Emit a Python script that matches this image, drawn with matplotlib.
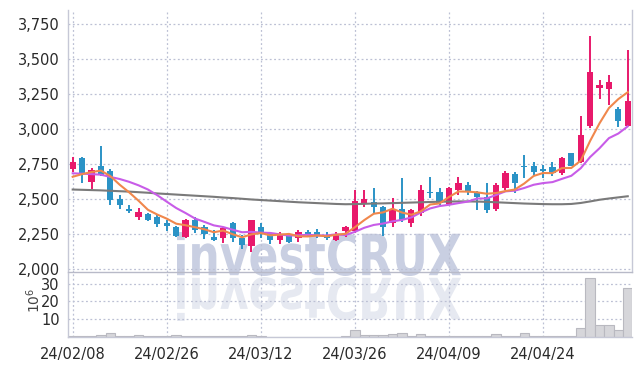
import numpy as np
import matplotlib
matplotlib.use("Agg")
import matplotlib.pyplot as plt
from matplotlib.ticker import FuncFormatter
from matplotlib.textpath import TextPath
from matplotlib.patches import PathPatch
from matplotlib.transforms import Affine2D, IdentityTransform
from matplotlib.font_manager import FontProperties

# # # # # data (prices in KRW, volume in 10^6 shares) # # # # #
tick_pos = [0, 10, 20, 30, 40, 50]
tick_labels = ["24/02/08", "24/02/26", "24/03/12", "24/03/26", "24/04/09", "24/04/24"]

opens = [2714, 2795, 2624, 2738, 2704, 2502, 2433, 2376, 2393, 2371,
         2331, 2300, 2233, 2352, 2304, 2229, 2226, 2333, 2221, 2166,
         2304, 2257, 2209, 2245, 2221, 2264, 2269, 2245, 2209, 2271,
         2276, 2466, 2481, 2443, 2329, 2429, 2329, 2400, 2554, 2554,
         2464, 2566, 2602, 2547, 2514, 2429, 2579, 2681, 2740, 2738,
         2716, 2733, 2686, 2831, 2764, 3026, 3297, 3286, 3145, 3026]
highs = [2800, 2800, 2723, 2881, 2714, 2530, 2457, 2438, 2400, 2386,
         2352, 2310, 2359, 2376, 2316, 2281, 2304, 2340, 2245, 2355,
         2329, 2269, 2264, 2250, 2281, 2281, 2288, 2264, 2264, 2310,
         2566, 2566, 2579, 2450, 2507, 2650, 2430, 2602, 2661, 2579,
         2590, 2661, 2626, 2560, 2614, 2619, 2700, 2697, 2816, 2769,
         2745, 2769, 2800, 2831, 3095, 3669, 3352, 3388, 3162, 3566]
lows = [2697, 2614, 2576, 2670, 2457, 2429, 2404, 2352, 2343, 2304,
        2276, 2228, 2221, 2262, 2216, 2205, 2186, 2197, 2143, 2126,
        2226, 2179, 2179, 2186, 2193, 2233, 2226, 2209, 2205, 2233,
        2257, 2447, 2400, 2238, 2300, 2340, 2300, 2381, 2507, 2460,
        2457, 2531, 2531, 2424, 2400, 2419, 2566, 2543, 2650, 2674,
        2654, 2669, 2674, 2735, 2757, 3012, 3216, 3174, 3019, 3026]
closes = [2766, 2686, 2709, 2674, 2495, 2457, 2414, 2409, 2352, 2324,
          2311, 2235, 2352, 2281, 2250, 2209, 2293, 2221, 2174, 2352,
          2257, 2209, 2250, 2197, 2269, 2250, 2245, 2221, 2252, 2300,
          2488, 2500, 2447, 2300, 2429, 2352, 2424, 2566, 2543, 2471,
          2579, 2619, 2561, 2519, 2424, 2602, 2690, 2614, 2733, 2697,
          2704, 2686, 2793, 2740, 2959, 3407, 3316, 3336, 3062, 3202]

ma5 = [2661, 2680, 2695, 2705, 2666, 2604, 2550, 2490, 2425, 2391,
       2362, 2326, 2315, 2301, 2286, 2265, 2277, 2251, 2229, 2250,
       2259, 2243, 2248, 2253, 2236, 2235, 2242, 2236, 2247, 2254,
       2301, 2352, 2397, 2407, 2433, 2406, 2390, 2414, 2463, 2471,
       2517, 2556, 2555, 2550, 2540, 2545, 2559, 2570, 2613, 2667,
       2688, 2687, 2723, 2724, 2776, 2917, 3043, 3152, 3216, 3265]
ma10 = [2686, 2683, 2680, 2676, 2660, 2645, 2625, 2600, 2570, 2529,
        2483, 2438, 2402, 2363, 2339, 2314, 2302, 2283, 2265, 2268,
        2262, 2260, 2250, 2241, 2243, 2247, 2242, 2242, 2250, 2245,
        2268, 2297, 2317, 2327, 2343, 2353, 2371, 2406, 2435, 2452,
        2461, 2473, 2484, 2506, 2506, 2531, 2557, 2562, 2581, 2604,
        2616, 2623, 2646, 2668, 2722, 2802, 2865, 2937, 2970, 3021]
ma_long = [2570, 2568, 2566, 2564, 2561, 2558, 2555, 2551, 2547, 2542,
           2538, 2534, 2530, 2526, 2522, 2518, 2513, 2509, 2504, 2499,
           2495, 2491, 2487, 2483, 2479, 2476, 2473, 2470, 2467, 2465,
           2466, 2468, 2470, 2471, 2473, 2475, 2477, 2479, 2481, 2483,
           2484, 2485, 2485, 2484, 2482, 2479, 2476, 2473, 2470, 2468,
           2466, 2465, 2465, 2467, 2474, 2485, 2497, 2506, 2514, 2522]

volume = [0.3, 0.3, 0.4, 1.4, 2.0, 0.5, 0.5, 0.9, 0.5, 0.5,
          0.5, 1.0, 0.5, 0.4, 0.4, 0.4, 0.4, 0.3, 0.6, 1.0,
          0.6, 0.2, 0.2, 0.2, 0.2, 0.2, 0.2, 0.2, 0.2, 0.3,
          3.8, 1.0, 1.0, 1.0, 1.5, 2.2, 0.5, 1.8, 0.8, 0.3,
          0.8, 0.8, 0.3, 0.3, 0.3, 1.8, 0.8, 0.8, 2.3, 0.4,
          0.4, 0.4, 0.4, 0.5, 4.8, 33.0, 6.8, 6.8, 4.0, 27.5]

# # # # # style # # # # #
UP = "#e8196b"
DOWN = "#2b93c6"
GRID = "#bcc0d4"
SPINE = "#c6c8d6"
TXT = "#2a2a2a"
plt.rcParams["font.family"] = ["Liberation Sans Narrow", "DejaVu Sans"]
plt.rcParams["font.size"] = 10.5


def main():
    fig = plt.figure(figsize=(6.42, 3.66), dpi=100)
    fig.patch.set_facecolor("white")
    ax = fig.add_axes([0.1059, 0.2568, 0.8785, 0.7159])
    axv = fig.add_axes([0.1059, 0.0792, 0.8785, 0.1749])
    for a in (ax, axv):
        a.set_facecolor("none")
        a.set_xlim(-0.5, 59.45)
        a.set_xticks(tick_pos)
        a.grid(True, color=GRID, linestyle=(0, (1.5, 2)), linewidth=0.9)
        a.set_axisbelow(True)
        a.tick_params(length=0, colors=TXT, pad=6)
        for s in a.spines.values():
            s.set_color(SPINE)
            s.set_linewidth(1.0)
        a.spines["top"].set_visible(False)

    x = np.arange(len(closes))
    o = np.array(opens)
    c = np.array(closes)
    up = c >= o
    colors = np.where(up, UP, DOWN)

    # wicks and bodies
    ax.vlines(x, lows, highs, colors=colors, linewidth=1.4, zorder=2)
    bottoms = np.minimum(o, c)
    heights = np.maximum(np.abs(c - o), 8)
    ax.bar(x, heights, bottom=bottoms, width=0.66, color=colors,
           linewidth=0, zorder=3)

    # moving averages
    ax.plot(x, ma_long, color="#7a7a7a", linewidth=1.5, zorder=4)
    ax.plot(x, ma10, color="#c85ce8", linewidth=1.5, zorder=4)
    ax.plot(x, ma5, color="#f0874c", linewidth=1.5, zorder=5)

    ax.set_ylim(1981, 3852)
    ax.set_yticks(np.arange(2000, 3751, 250))
    ax.yaxis.set_major_formatter(FuncFormatter(lambda v, p: f"{int(v):,}"))
    ax.set_xticklabels([])
    ax.spines["bottom"].set_color("#b8bac8")

    # volume
    axv.bar(x, volume, width=1.0, color="#d6d6da", edgecolor="#b9b9c0",
            linewidth=0.8, zorder=2)
    axv.set_ylim(0, 36)
    axv.set_yticks([10, 20, 30])
    axv.set_xticklabels(tick_labels)
    axv.tick_params(axis="x", pad=7)
    axv.spines["right"].set_visible(False)
    fig.text(0.052, 0.18, r"$10^6$", rotation=90, ha="center", va="center",
             fontsize=10, color="#444444")
    plt.rcParams["mathtext.default"] = "regular"

    # watermark with reflection (pixel coordinates)
    tp = TextPath((0, 0), "investCRUX", size=50,
                  prop=FontProperties(family="DejaVu Sans", weight="bold"))
    bb = tp.get_extents()
    sx = 284 / bb.width
    sy = 44 / bb.height
    t_main = Affine2D().translate(-bb.x0, -bb.y0).scale(sx, sy).translate(177, 90)
    t_refl = Affine2D().translate(-bb.x0, -bb.y0).scale(sx, -sy).translate(177, 89)
    fig.patches.append(PathPatch(tp, transform=t_main + IdentityTransform(),
                                 facecolor="#c9cfe2", edgecolor="none",
                                 zorder=-1, figure=fig))
    fig.patches.append(PathPatch(tp, transform=t_refl + IdentityTransform(),
                                 facecolor="#e6e9f1", edgecolor="none",
                                 zorder=-1, figure=fig))

    fig.savefig("out.png", dpi=100, facecolor="white")


if __name__ == "__main__":
    main()
